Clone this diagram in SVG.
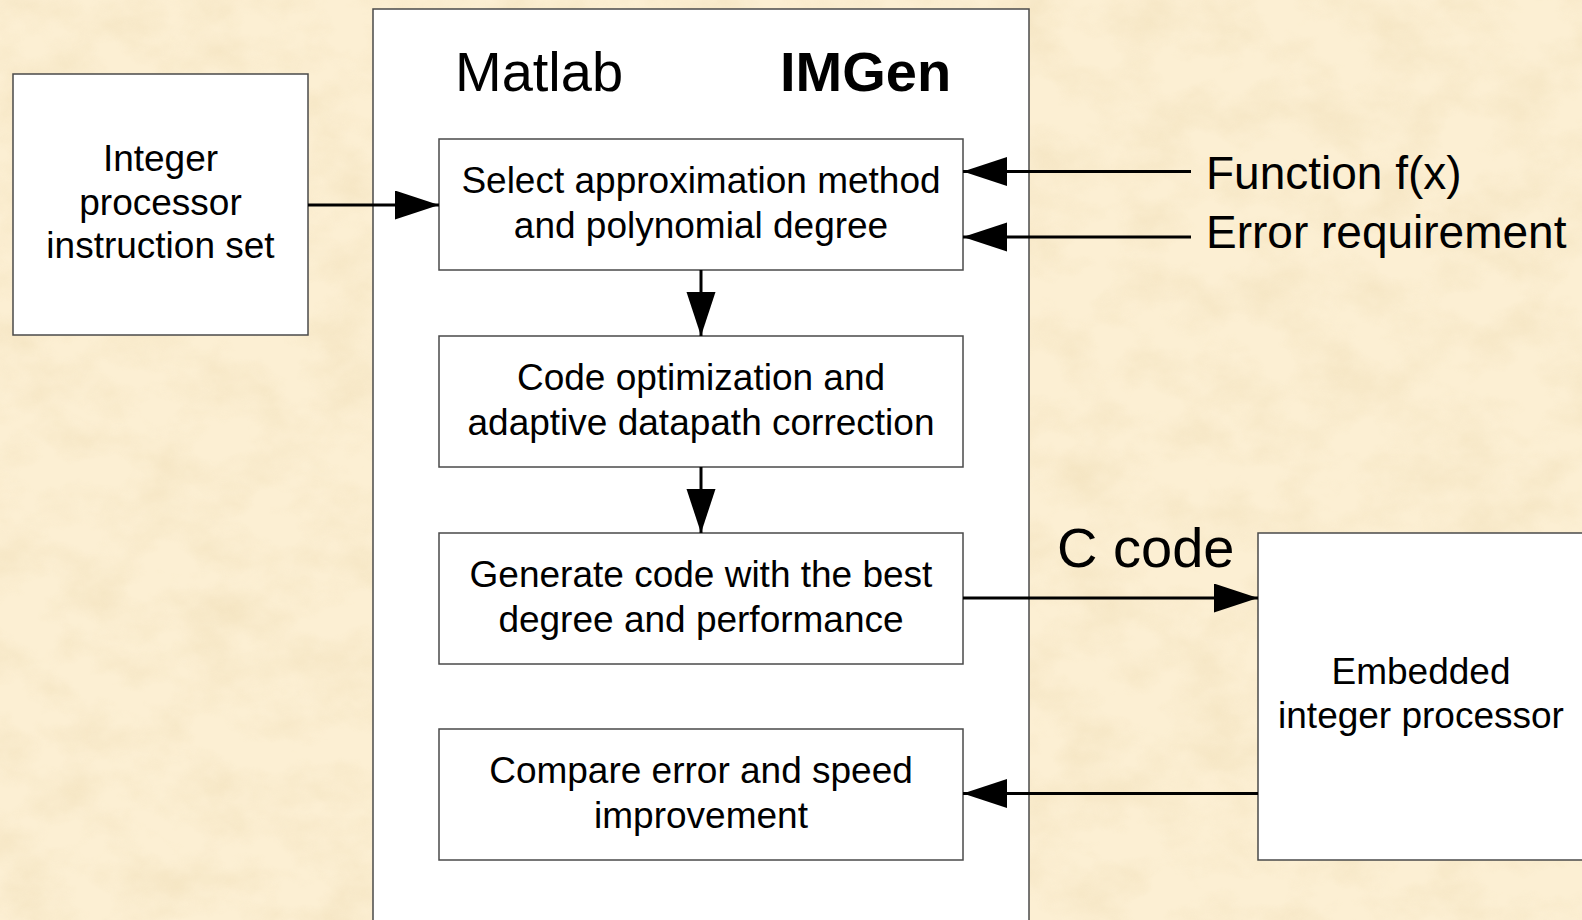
<svg xmlns="http://www.w3.org/2000/svg" width="1582" height="920" viewBox="0 0 1582 920">
<defs>
<style>
.box{fill:#ffffff;stroke:#4a4a4a;stroke-width:1.5}
.t{font-family:"Liberation Sans",Arial,sans-serif;fill:#000000}
.bt{font-size:37px;text-anchor:middle}
.big{font-size:46px}
.hd{font-size:56px}
.arr{stroke:#000000;stroke-width:3;fill:none;marker-end:url(#ah)}
</style>
<marker id="ah" markerUnits="userSpaceOnUse" markerWidth="46" markerHeight="30" refX="44" refY="14.5" orient="auto">
<path d="M0,0 L44,14.5 L0,29 Z" fill="#000000"/>
</marker>
<filter id="tex" x="0" y="0" width="100%" height="100%">
<feTurbulence type="fractalNoise" baseFrequency="0.016 0.022" numOctaves="4" seed="7"/>
<feColorMatrix type="matrix" values="0 0 0 0 0.86  0 0 0 0 0.72  0 0 0 0 0.46  1.3 0 0 0 -0.5"/>
</filter>
</defs>
<rect x="0" y="0" width="1582" height="920" fill="#fcefd3"/>
<rect x="0" y="0" width="1582" height="920" filter="url(#tex)" opacity="0.75"/>

<g id="matlab">
<rect class="box" x="373" y="9" width="656" height="930"/>
<text class="t hd" x="455" y="91">Matlab</text>
<text class="t hd" x="780" y="91" font-weight="bold" font-size="55">IMGen</text>
</g>

<g id="instruction-set">
<rect class="box" x="13" y="74" width="295" height="261"/>
<text class="t bt" x="160.5" y="171">Integer</text>
<text class="t bt" x="160.5" y="214.5">processor</text>
<text class="t bt" x="160.5" y="258">instruction set</text>
</g>

<g id="select">
<rect class="box" x="439" y="139" width="524" height="131"/>
<text class="t bt" x="701" y="193">Select approximation method</text>
<text class="t bt" x="701" y="237.5">and polynomial degree</text>
</g>

<g id="optimize">
<rect class="box" x="439" y="336" width="524" height="131"/>
<text class="t bt" x="701" y="390">Code optimization and</text>
<text class="t bt" x="701" y="434.5">adaptive datapath correction</text>
</g>

<g id="generate">
<rect class="box" x="439" y="533" width="524" height="131"/>
<text class="t bt" x="701" y="587">Generate code with the best</text>
<text class="t bt" x="701" y="631.5">degree and performance</text>
</g>

<g id="compare">
<rect class="box" x="439" y="729" width="524" height="131"/>
<text class="t bt" x="701" y="783">Compare error and speed</text>
<text class="t bt" x="701" y="827.5">improvement</text>
</g>

<g id="embedded">
<rect class="box" x="1258" y="533" width="340" height="327"/>
<text class="t bt" x="1421" y="684">Embedded</text>
<text class="t bt" x="1421" y="727.5">integer processor</text>
</g>

<g id="inputs">
<text class="t big" x="1206" y="189">Function f(x)</text>
<text class="t big" x="1206" y="248">Error requirement</text>
<text class="t hd" x="1057" y="567">C code</text>
</g>

<g id="connectors">
<line class="arr" x1="308" y1="205" x2="439" y2="205"/>
<line class="arr" x1="1191" y1="171.5" x2="963" y2="171.5"/>
<line class="arr" x1="1191" y1="237" x2="963" y2="237"/>
<line class="arr" x1="701" y1="270" x2="701" y2="336"/>
<line class="arr" x1="701" y1="467" x2="701" y2="533"/>
<line class="arr" x1="963" y1="598" x2="1258" y2="598"/>
<line class="arr" x1="1258" y1="793.5" x2="963" y2="793.5"/>
</g>
</svg>
